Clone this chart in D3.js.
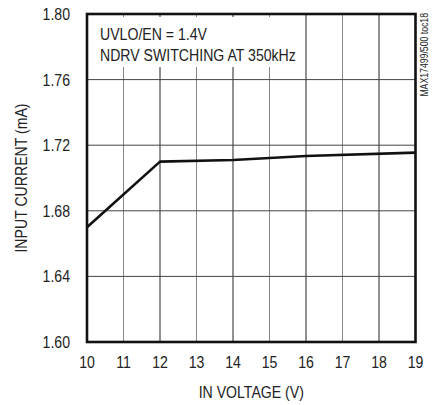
<!DOCTYPE html>
<html>
<head>
<meta charset="utf-8">
<script src="https://cdn.jsdelivr.net/npm/d3@7"></script>
<style>
  body { margin: 0; background: #fff; }
  text { font-family: "Liberation Sans", Arial, sans-serif; fill: #222; }
</style>
</head>
<body>
<script>
const width = 432;
const height = 405;

// data
const voltage = [10, 12, 14, 16, 19];
const current = [1.670, 1.710, 1.711, 1.7134, 1.7155];
const xTicks = [10, 11, 12, 13, 14, 15, 16, 17, 18, 19];
const yTicks = [1.60, 1.64, 1.68, 1.72, 1.76, 1.80];
const notes = ["UVLO/EN = 1.4V", "NDRV SWITCHING AT 350kHz"];

const margin = {top: 14, right: 16.5, bottom: 63, left: 87};
const squeeze = 0.83; // condensed look of the original typeface
const fs = 17;

const svg = d3.select("body").append("svg")
  .attr("width", width)
  .attr("height", height);

const x = d3.scaleLinear().domain([10, 19]).range([margin.left, width - margin.right]);
const y = d3.scaleLinear().domain([1.60, 1.80]).range([height - margin.bottom, margin.top]);

// grid
svg.selectAll(".vgrid")
  .data(xTicks.slice(1, -1))
  .join("line")
    .attr("x1", d => x(d)).attr("x2", d => x(d))
    .attr("y1", y(1.80)).attr("y2", y(1.60))
    .attr("stroke", d => d % 2 ? "#888" : "#222")
    .attr("stroke-width", 1);

svg.selectAll(".hgrid")
  .data(yTicks.slice(1, -1))
  .join("line")
    .attr("x1", x(10)).attr("x2", x(19))
    .attr("y1", d => y(d)).attr("y2", d => y(d))
    .attr("stroke", "#444")
    .attr("stroke-width", 1);

// annotation box (hides grid behind the text)
svg.append("rect")
  .attr("x", 96).attr("y", 17)
  .attr("width", 190).attr("height", 50)
  .attr("fill", "#fff");

svg.selectAll(".note")
  .data(notes)
  .join("text")
    .attr("transform", (d, i) => `translate(100,${40 + i * 21}) scale(${squeeze},1)`)
    .attr("font-size", fs)
    .text(d => d);

// data line
const line = d3.line()
  .x((d, i) => x(voltage[i]))
  .y(d => y(d));

svg.append("path")
  .datum(current)
  .attr("d", line)
  .attr("fill", "none")
  .attr("stroke", "#111")
  .attr("stroke-width", 2.6)
  .attr("stroke-linejoin", "round");

// frame
svg.append("rect")
  .attr("x", x(10)).attr("y", y(1.80))
  .attr("width", x(19) - x(10))
  .attr("height", y(1.60) - y(1.80))
  .attr("fill", "none")
  .attr("stroke", "#111")
  .attr("stroke-width", 2.6);

// tick labels
svg.selectAll(".ylab")
  .data(yTicks)
  .join("text")
    .attr("transform", d => `translate(70,${y(d) + 6}) scale(${squeeze},1)`)
    .attr("text-anchor", "end")
    .attr("font-size", fs)
    .text(d => d.toFixed(2));

svg.selectAll(".xlab")
  .data(xTicks)
  .join("text")
    .attr("transform", d => `translate(${x(d)},368) scale(${squeeze},1)`)
    .attr("text-anchor", "middle")
    .attr("font-size", fs)
    .text(d => d);

// axis titles
svg.append("text")
  .attr("transform", `translate(${x(14.5)},398) scale(${squeeze},1)`)
  .attr("text-anchor", "middle")
  .attr("font-size", fs)
  .text("IN VOLTAGE (V)");

svg.append("text")
  .attr("transform", `translate(27,${(y(1.60) + y(1.80)) / 2}) rotate(-90) scale(${squeeze},1)`)
  .attr("text-anchor", "middle")
  .attr("font-size", fs)
  .text("INPUT CURRENT (mA)");

svg.append("text")
  .attr("transform", `translate(428,13) rotate(-90) scale(${squeeze},1)`)
  .attr("text-anchor", "end")
  .attr("font-size", 10.5)
  .text("MAX17499/500 toc18");
</script>
</body>
</html>
